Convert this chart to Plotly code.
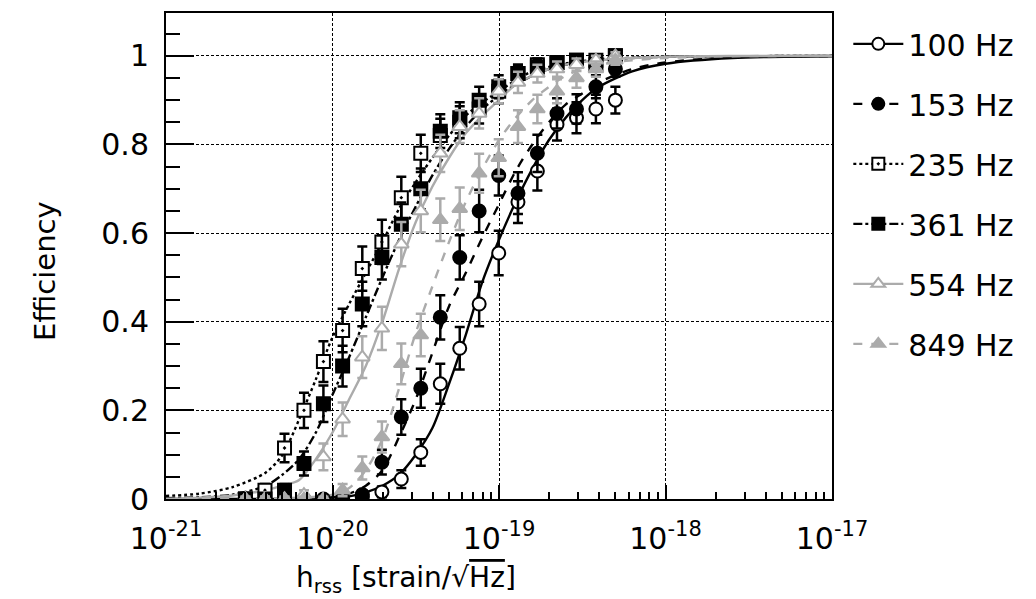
import plotly.graph_objects as go

# ---------------- data ----------------
series_names = ["100 Hz", "153 Hz", "235 Hz", "361 Hz", "554 Hz", "849 Hz"]

# injected hrss values (strain/sqrt(Hz)) shared by all series
h_inj = [3.0e-21, 3.93e-21, 5.15e-21, 6.74e-21, 8.82e-21, 1.15e-20, 1.51e-20,
         1.98e-20, 2.59e-20, 3.39e-20, 4.44e-20, 5.81e-20, 7.6e-20, 9.96e-20,
         1.30e-19, 1.70e-19, 2.23e-19, 2.92e-19, 3.82e-19, 5.0e-19]

eff_100 = [None, None, None, None, None, 0.0, 0.005, 0.016, 0.045, 0.105, 0.26, 0.34,
           0.44, 0.555, 0.67, 0.74, 0.845, 0.86, 0.88, 0.90]
err_100 = [None, None, None, None, None, 0.005, 0.007, 0.012, 0.02, 0.03, 0.045, 0.048,
           0.05, 0.05, 0.047, 0.044, 0.036, 0.035, 0.032, 0.03]

eff_153 = [0.0, 0.0, 0.0, 0.0, 0.0, 0.0, 0.01, 0.083, 0.185, 0.25, 0.41, 0.545,
           0.65, 0.73, 0.69, 0.78, 0.87, 0.88, 0.93, 0.97]
err_153 = [0.005, 0.005, 0.005, 0.005, 0.005, 0.005, 0.01, 0.028, 0.04, 0.044, 0.05, 0.05,
           0.048, 0.045, 0.047, 0.042, 0.034, 0.033, 0.026, 0.017]

eff_235 = [0.0, 0.02, 0.115, 0.20, 0.31, 0.38, 0.52, 0.58, 0.68, 0.78, 0.82, 0.85,
           0.88, 0.92, 0.96, 0.98, 0.985, 0.99, 0.98, 1.0]
err_235 = [0.005, 0.014, 0.032, 0.04, 0.046, 0.049, 0.05, 0.05, 0.047, 0.042, 0.038, 0.036,
           0.033, 0.027, 0.02, 0.014, 0.012, 0.01, 0.014, 0.008]

eff_361 = [0.0, 0.0, 0.02, 0.08, 0.215, 0.30, 0.44, 0.545, 0.62, 0.70, 0.83, 0.86,
           0.90, 0.93, 0.96, 0.975, 0.985, 0.99, 0.99, 1.0]
err_361 = [0.005, 0.005, 0.014, 0.027, 0.041, 0.046, 0.05, 0.05, 0.049, 0.046, 0.038, 0.035,
           0.03, 0.026, 0.02, 0.016, 0.012, 0.01, 0.01, 0.008]

eff_554 = [0.0, 0.0, 0.0, 0.01, 0.095, 0.18, 0.32, 0.385, 0.575, 0.65, 0.78, 0.84,
           0.87, 0.92, 0.94, 0.96, 0.97, 0.98, 0.99, 1.0]
err_554 = [0.005, 0.005, 0.005, 0.01, 0.03, 0.038, 0.047, 0.049, 0.05, 0.048, 0.042, 0.037,
           0.034, 0.027, 0.024, 0.02, 0.017, 0.014, 0.01, 0.008]

eff_849 = [0.0, 0.0, 0.0, 0.0, 0.0, 0.02, 0.07, 0.14, 0.305, 0.37, 0.63, 0.655,
           0.735, 0.77, 0.84, 0.88, 0.92, 0.95, 0.97, 0.99]
err_849 = [0.005, 0.005, 0.005, 0.005, 0.005, 0.014, 0.026, 0.035, 0.046, 0.048, 0.048, 0.048,
           0.044, 0.042, 0.037, 0.032, 0.027, 0.022, 0.017, 0.01]

# fitted curves, read along log10(hrss)
fit_log_h = [-21.0, -20.8, -20.6, -20.4, -20.3, -20.2, -20.1, -20.0, -19.9, -19.8,
             -19.7, -19.6, -19.5, -19.4, -19.3, -19.2, -19.1, -19.0, -18.9, -18.8,
             -18.7, -18.6, -18.5, -18.4, -18.2, -18.0, -17.6, -17.0]
fit_100 = [0.0, 0.0, 0.0, 0.0, 0.0, 0.001, 0.002, 0.003, 0.006, 0.015, 0.03, 0.055,
           0.10, 0.16, 0.26, 0.37, 0.49, 0.585, 0.67, 0.745, 0.81, 0.86, 0.90, 0.93,
           0.965, 0.982, 0.995, 0.999]
fit_153 = [0.0, 0.0, 0.0, 0.0, 0.0, 0.0, 0.001, 0.004, 0.012, 0.03, 0.065, 0.14,
           0.225, 0.33, 0.435, 0.51, 0.59, 0.665, 0.74, 0.80, 0.85, 0.89, 0.915, 0.94,
           0.97, 0.985, 0.997, 0.9995]
fit_235 = [0.007, 0.012, 0.027, 0.06, 0.10, 0.18, 0.27, 0.365, 0.44, 0.51, 0.58, 0.655,
           0.715, 0.77, 0.82, 0.865, 0.895, 0.92, 0.945, 0.965, 0.975, 0.983, 0.988, 0.992,
           0.996, 0.998, 0.999, 1.0]
fit_361 = [0.002, 0.004, 0.01, 0.03, 0.055, 0.09, 0.15, 0.235, 0.32, 0.41, 0.50, 0.585,
           0.66, 0.73, 0.79, 0.84, 0.88, 0.91, 0.935, 0.955, 0.97, 0.98, 0.986, 0.99,
           0.995, 0.998, 0.999, 1.0]
fit_554 = [0.0, 0.003, 0.008, 0.02, 0.03, 0.043, 0.09, 0.15, 0.225, 0.30, 0.40, 0.52,
           0.625, 0.705, 0.77, 0.825, 0.865, 0.90, 0.935, 0.955, 0.97, 0.98, 0.986, 0.99,
           0.995, 0.998, 0.9995, 1.0]
fit_849 = [0.0, 0.0, 0.001, 0.001, 0.002, 0.003, 0.005, 0.01, 0.025, 0.065, 0.135, 0.25,
           0.375, 0.48, 0.58, 0.67, 0.745, 0.81, 0.86, 0.90, 0.93, 0.955, 0.97, 0.98,
           0.99, 0.995, 0.999, 1.0]

x_tick_vals = [1e-21, 1e-20, 1e-19, 1e-18, 1e-17]
x_tick_text = ["10<sup>-21</sup>", "10<sup>-20</sup>", "10<sup>-19</sup>",
               "10<sup>-18</sup>", "10<sup>-17</sup>"]
y_tick_vals = [0, 0.2, 0.4, 0.6, 0.8, 1.0]
y_tick_text = ["0", "0.2", "0.4", "0.6", "0.8", "1"]

# ---------------- styles ----------------
BLACK = "#000000"
GREY = "#ababab"
FONT = "DejaVu Sans, Liberation Sans, Arial, sans-serif"

styles = [
    dict(color=BLACK, dash="solid", symbol="circle", fill="#ffffff"),
    dict(color=BLACK, dash="dash", symbol="circle", fill=BLACK),
    dict(color=BLACK, dash="dot", symbol="square-dot", fill="#ffffff"),
    dict(color=BLACK, dash="dashdot", symbol="square", fill=BLACK),
    dict(color=GREY, dash="solid", symbol="triangle-up", fill="#ffffff"),
    dict(color=GREY, dash="dash", symbol="triangle-up", fill=GREY),
]
effs = [eff_100, eff_153, eff_235, eff_361, eff_554, eff_849]
errs = [err_100, err_153, err_235, err_361, err_554, err_849]
fits = [fit_100, fit_153, fit_235, fit_361, fit_554, fit_849]

fit_h = [10 ** v for v in fit_log_h]

fig = go.Figure()

for name, st, fy in zip(series_names, styles, fits):
    fig.add_trace(go.Scatter(
        x=fit_h, y=fy, mode="lines", line=dict(color=st["color"], width=2.4,
                                               dash=st["dash"], shape="spline", smoothing=0.8),
        showlegend=False, hoverinfo="skip"))

for name, st, ey, ee in zip(series_names, styles, effs, errs):
    fig.add_trace(go.Scatter(
        x=h_inj, y=ey, mode="markers",
        marker=dict(symbol=st["symbol"], size=13, color=st["fill"],
                    line=dict(color=st["color"], width=2)),
        error_y=dict(type="data", array=ee, visible=True, color=st["color"],
                     thickness=2.5, width=5),
        showlegend=False))

# legend entries (line + marker samples)
for name, st in zip(series_names, styles):
    fig.add_trace(go.Scatter(
        x=[None], y=[None], mode="lines+markers", name=name, legendgroup=name,
        line=dict(color=st["color"], width=2.4, dash=st["dash"]),
        marker=dict(symbol=st["symbol"], size=12, color=st["fill"],
                    line=dict(color=st["color"], width=2))))

# the page body adds an 8 px margin, so the figure is 8 px smaller than the window
fig.update_layout(
    width=1028, height=591,
    margin=dict(l=158, r=204, t=3, b=100),
    paper_bgcolor="white", plot_bgcolor="white",
    font=dict(family=FONT, color="black", size=30),
    showlegend=True,
    legend=dict(x=1.0245, xanchor="left", y=0.99, yanchor="top",
                font=dict(family=FONT, size=30, color="black"),
                traceorder="grouped", tracegroupgap=18, itemwidth=50,
                bgcolor="rgba(0,0,0,0)", borderwidth=0),
    xaxis=dict(type="log", range=[-21, -17], tickvals=x_tick_vals, ticktext=x_tick_text,
               ticks="inside", ticklen=14, tickwidth=1.5, tickcolor=BLACK,
               showgrid=True, gridcolor=BLACK, gridwidth=1, griddash="3px,2px",
               showline=True, linecolor=BLACK, linewidth=2, mirror=True, zeroline=False,
               minor=dict(ticks="inside", ticklen=7, tickwidth=1.5, tickcolor=BLACK,
                          dtick="D1", showgrid=False),
               tickfont=dict(family=FONT, size=30, color=BLACK), ticklabelstandoff=12),
    yaxis=dict(range=[0, 1.0966], tickvals=y_tick_vals, ticktext=y_tick_text,
               ticks="inside", ticklen=28, tickwidth=1.5, tickcolor=BLACK,
               showgrid=True, gridcolor=BLACK, gridwidth=1, griddash="3px,2px",
               showline=True, linecolor=BLACK, linewidth=2, mirror=True, zeroline=False,
               minor=dict(ticks="inside", ticklen=14, tickwidth=1.5, tickcolor=BLACK,
                          dtick=0.05, showgrid=False),
               tickfont=dict(family=FONT, size=30, color=BLACK), ticklabelstandoff=9),
    annotations=[
        dict(text="Efficiency", xref="paper", yref="paper", x=0, y=0.469,
             xshift=-121, xanchor="center", yanchor="middle", textangle=-90,
             showarrow=False, font=dict(family=FONT, size=29, color=BLACK)),
        dict(text="h<sub>rss</sub> [strain/\u221a<span style='text-decoration:overline'>Hz</span>]",
             xref="paper", yref="paper", x=0.3604, y=0, yshift=-80,
             xanchor="center", yanchor="middle", showarrow=False,
             font=dict(family=FONT, size=28, color=BLACK)),
    ],
)

fig.write_html("out.html")
